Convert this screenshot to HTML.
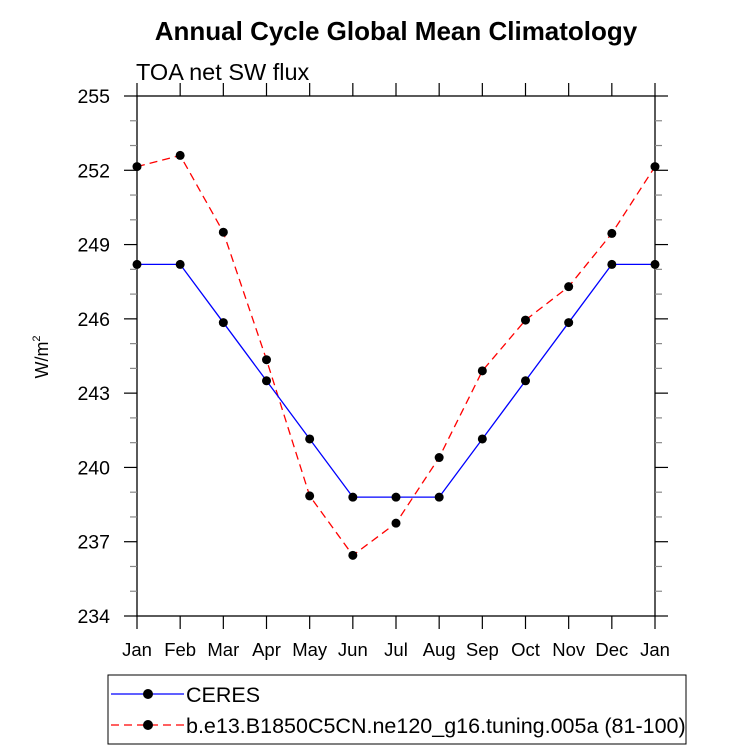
<!DOCTYPE html>
<html><head><meta charset="utf-8"><style>
body{margin:0;background:#fff}
svg text{font-family:"Liberation Sans",Arial,sans-serif}
</style></head><body>
<svg id="chart" width="733" height="751" xmlns="http://www.w3.org/2000/svg">
<text x="396" y="40" text-anchor="middle" font-size="26" font-weight="bold">Annual Cycle Global Mean Climatology</text>
<text x="136" y="80" font-size="23.5">TOA net SW flux</text>
<text transform="translate(48,357) rotate(-90)" text-anchor="middle" font-size="18">W/m<tspan font-size="11" dy="-8">2</tspan></text>
<g id="axes"></g>
<g id="series"></g>
<rect x="108" y="675" width="578" height="69" fill="none" stroke="#000" stroke-width="1"/>
<g>
<line x1="111" y1="694" x2="184" y2="694" stroke="#0000ff" stroke-width="1.3"/>
<circle cx="148" cy="694" r="5" fill="#000"/>
<text x="186" y="702" font-size="21.5">CERES</text></g>
<g>
<line x1="111" y1="725" x2="184" y2="725" stroke="#ff0000" stroke-width="1.3" stroke-dasharray="8,5"/>
<circle cx="148" cy="725" r="5" fill="#000"/>
<text x="186" y="733" font-size="21.5">b.e13.B1850C5CN.ne120_g16.tuning.005a (81-100)</text></g>
</svg>
<script>
const months=["Jan","Feb","Mar","Apr","May","Jun","Jul","Aug","Sep","Oct","Nov","Dec","Jan"];
const yTicks=[234,237,240,243,246,249,252,255];
const ceres=[248.2,248.2,245.85,243.5,241.15,238.8,238.8,238.8,241.15,243.5,245.85,248.2,248.2];
const model=[252.15,252.6,249.5,244.35,238.85,236.45,237.75,240.4,243.9,245.95,247.3,249.45,252.15];
const L=137,R=655,T=96,B=616,ymin=234,ymax=255;
const xs=i=>L+(R-L)*i/12;
const ys=v=>B-(B-T)*(v-ymin)/(ymax-ymin);
const NS="http://www.w3.org/2000/svg";
const ax=document.getElementById('axes'),sg=document.getElementById('series');
function mk(p,tag,a){const e=document.createElementNS(NS,tag);for(const k in a)e.setAttribute(k,a[k]);p.appendChild(e);return e;}
const frame=mk(ax,'rect',{x:L,y:T,width:R-L,height:B-T,fill:'none',stroke:'#000','stroke-width':1.3});


for(let v=ymin;v<=ymax;v++){
  const y=ys(v),maj=yTicks.includes(v),len=maj?13:7,c=maj?'#000':'#888';
  const a=mk(ax,'line',{x1:L-len,x2:L,y1:y,y2:y,stroke:c,'stroke-width':1.2});
  
  
  const b=mk(ax,'line',{x1:R,x2:R+len,y1:y,y2:y,stroke:c,'stroke-width':1.2});
  
  
}
yTicks.forEach(v=>{const t=mk(ax,'text',{x:110,y:ys(v)+7,'text-anchor':'end','font-size':19.5});t.textContent=v;

});
months.forEach((m,i)=>{const x=xs(i);
  const a=mk(ax,'line',{x1:x,x2:x,y1:B,y2:B+13,stroke:'#000','stroke-width':1.2});
  
  
  const b=mk(ax,'line',{x1:x,x2:x,y1:T-13,y2:T,stroke:'#000','stroke-width':1.2});
  
  
  const t=mk(ax,'text',{x:x,y:656,'text-anchor':'middle','font-size':18.5});t.textContent=m;
  
  });
function draw(vals,color,dash,name){
  const pts=vals.map((v,i)=>xs(i)+','+ys(v)).join(' ');
  const pl=mk(sg,'polyline',{points:pts,fill:'none',stroke:color,'stroke-width':1.3});
  if(dash)pl.setAttribute('stroke-dasharray',dash);
  
  
  vals.forEach((v,i)=>{const c=mk(sg,'circle',{cx:xs(i),cy:ys(v),r:4.5,fill:'#000'});
    
    });
}
draw(model,'#ff0000','8,5','model');
draw(ceres,'#0000ff',null,'ceres');
</script>
</body></html>
